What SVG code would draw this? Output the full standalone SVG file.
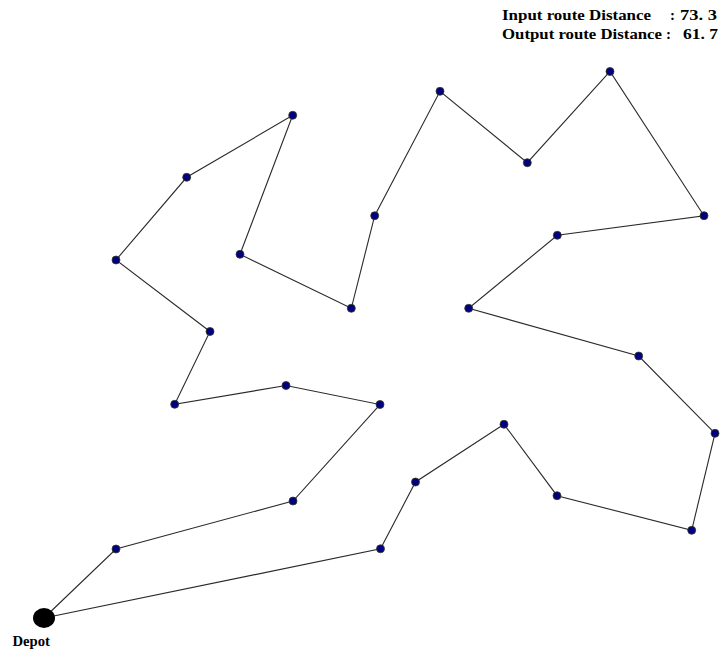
<svg xmlns="http://www.w3.org/2000/svg" width="723" height="652" viewBox="0 0 723 652">
<style>
.edge{stroke:#2a2a2a;stroke-width:1.1;fill:none}
.n{fill:#000080;stroke:#3a3a20;stroke-width:0.8}
.t{font-family:"Liberation Serif","Times New Roman",serif;font-weight:bold;font-size:15px;fill:#000}
</style>
<rect width="723" height="652" fill="#fff"/>
<g id="connectors">
<polyline class="edge" points="44,618 116,549 293,501 380,404.5 286,385.5 174.7,404.3 210,331.5 116,260 186.7,177.3 292.7,115.3 240,254.3 351.3,308.3 374.7,215.7 440,91.3 527.3,162.7 610,71.5 704,215.7 557.3,235.3 468.7,308.3 638.7,356 715,433.3 691.7,530.3 557,495.7 504,424.3 415.5,482 380.5,548.8 44,618"/>
</g>
<g id="depot">
<ellipse cx="44" cy="618" rx="11" ry="10" fill="#000"/>
<text class="t" x="12.5" y="646" textLength="37.5" lengthAdjust="spacingAndGlyphs">Depot</text>
</g>
<g id="n1"><circle class="n" cx="116" cy="549" r="4"/></g>
<g id="n2"><circle class="n" cx="293" cy="501" r="4"/></g>
<g id="n3"><circle class="n" cx="380" cy="404.5" r="4"/></g>
<g id="n4"><circle class="n" cx="286" cy="385.5" r="4"/></g>
<g id="n5"><circle class="n" cx="174.7" cy="404.3" r="4"/></g>
<g id="n6"><circle class="n" cx="210" cy="331.5" r="4"/></g>
<g id="n7"><circle class="n" cx="116" cy="260" r="4"/></g>
<g id="n8"><circle class="n" cx="186.7" cy="177.3" r="4"/></g>
<g id="n9"><circle class="n" cx="292.7" cy="115.3" r="4"/></g>
<g id="n10"><circle class="n" cx="240" cy="254.3" r="4"/></g>
<g id="n11"><circle class="n" cx="351.3" cy="308.3" r="4"/></g>
<g id="n12"><circle class="n" cx="374.7" cy="215.7" r="4"/></g>
<g id="n13"><circle class="n" cx="440" cy="91.3" r="4"/></g>
<g id="n14"><circle class="n" cx="527.3" cy="162.7" r="4"/></g>
<g id="n15"><circle class="n" cx="610" cy="71.5" r="4"/></g>
<g id="n16"><circle class="n" cx="704" cy="215.7" r="4"/></g>
<g id="n17"><circle class="n" cx="557.3" cy="235.3" r="4"/></g>
<g id="n18"><circle class="n" cx="468.7" cy="308.3" r="4"/></g>
<g id="n19"><circle class="n" cx="638.7" cy="356" r="4"/></g>
<g id="n20"><circle class="n" cx="715" cy="433.3" r="4"/></g>
<g id="n21"><circle class="n" cx="691.7" cy="530.3" r="4"/></g>
<g id="n22"><circle class="n" cx="557" cy="495.7" r="4"/></g>
<g id="n23"><circle class="n" cx="504" cy="424.3" r="4"/></g>
<g id="n24"><circle class="n" cx="415.5" cy="482" r="4"/></g>
<g id="n25"><circle class="n" cx="380.5" cy="548.8" r="4"/></g>
<g id="legend">
<text class="t" x="502" y="20" textLength="149" lengthAdjust="spacingAndGlyphs">Input route Distance</text>
<text class="t" x="670" y="20">:</text>
<text class="t" x="680" y="20" textLength="37" lengthAdjust="spacingAndGlyphs">73. 3</text>
<text class="t" x="502" y="39" textLength="160" lengthAdjust="spacingAndGlyphs">Output route Distance</text>
<text class="t" x="666" y="39">:</text>
<text class="t" x="683" y="39" textLength="35" lengthAdjust="spacingAndGlyphs">61. 7</text>
</g>
</svg>
